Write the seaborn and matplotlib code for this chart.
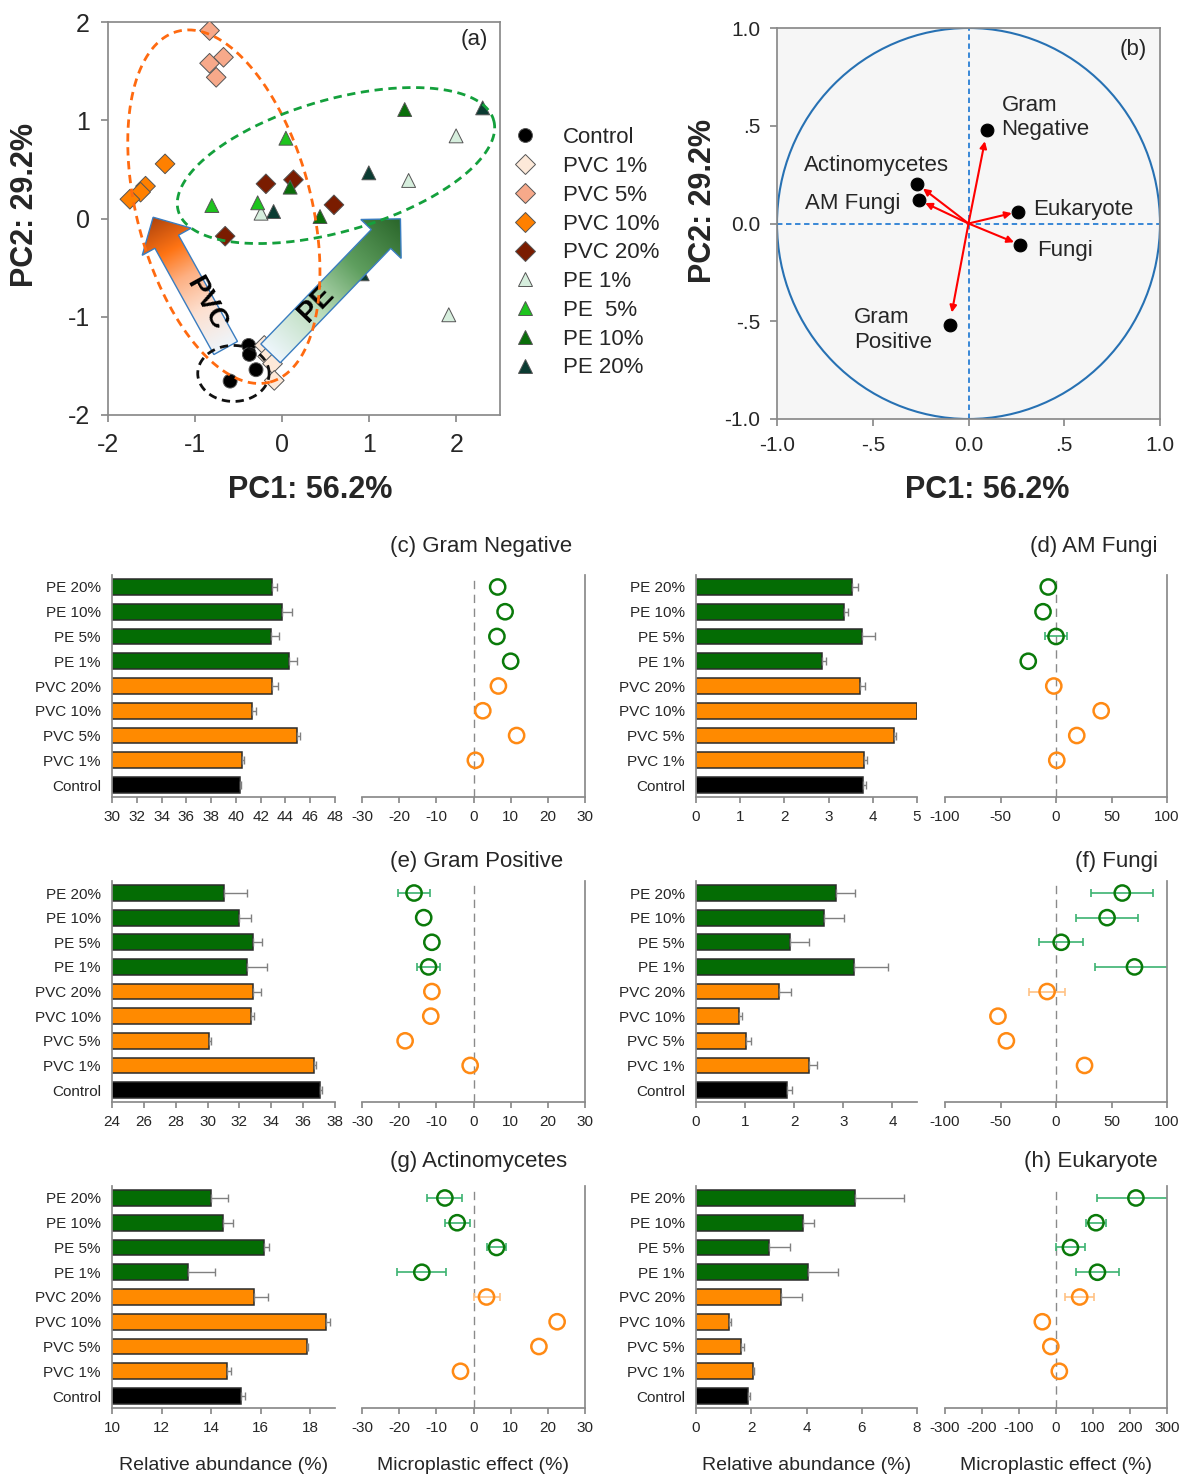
import numpy as np
import pandas as pd
import matplotlib
matplotlib.use("Agg")
import matplotlib.pyplot as plt
import seaborn as sns
from matplotlib.patches import Polygon, Circle
from matplotlib.colors import LinearSegmentedColormap

sns.set_theme(style="white")
plt.rcParams["font.family"] = ["Liberation Sans", "DejaVu Sans"]
plt.rcParams["axes.unicode_minus"] = False

# ---------------- panel (a): PCA scores ----------------
groups = ["Control", "PVC 1%", "PVC 5%", "PVC 10%", "PVC 20%", "PE 1%", "PE  5%", "PE 10%", "PE 20%"]
pc1_control = [-0.385, -0.377, -0.301, -0.598]
pc2_control = [-1.292, -1.383, -1.539, -1.655]
pc1_pvc1 = [-0.206, -0.168, -0.111, -0.091]
pc2_pvc1 = [-1.292, -1.404, -1.478, -1.648]
pc1_pvc5 = [-0.834, -0.834, -0.674, -0.758]
pc2_pvc5 = [1.913, 1.580, 1.641, 1.437]
pc1_pvc10 = [-1.345, -1.569, -1.626, -1.749]
pc2_pvc10 = [0.556, 0.329, 0.268, 0.196]
pc1_pvc20 = [-0.187, 0.129, 0.594, -0.655]
pc2_pvc20 = [0.353, 0.394, 0.139, -0.180]
pc1_pe1 = [1.996, 1.451, -0.243, 1.912]
pc2_pe1 = [0.841, 0.387, 0.054, -0.980]
pc1_pe5 = [0.042, -0.808, -0.282]
pc2_pe5 = [0.817, 0.132, 0.160]
pc1_pe10 = [1.406, 0.434, 0.091]
pc2_pe10 = [1.109, 0.020, 0.319]
pc1_pe20 = [0.994, 2.301, -0.099, 0.918]
pc2_pe20 = [0.465, 1.126, 0.071, -0.563]

# ---------------- panel (b): loadings ----------------
load_names = ["Gram\nNegative", "Actinomycetes", "AM Fungi", "Eukaryote", "Fungi", "Gram\nPositive"]
load_pc1 = [0.097, -0.270, -0.257, 0.257, 0.270, -0.099]
load_pc2 = [0.478, 0.203, 0.119, 0.060, -0.109, -0.517]

# ---------------- panels (c)-(h) ----------------
treatments = ["PE 20%", "PE 10%", "PE 5%", "PE 1%", "PVC 20%", "PVC 10%", "PVC 5%", "PVC 1%", "Control"]

gneg_mean = [42.9, 43.7, 42.8, 44.3, 42.95, 41.3, 44.95, 40.5, 40.35]
gneg_se = [0.44, 0.8, 0.7, 0.6, 0.45, 0.3, 0.2, 0.15, 0.1]
gneg_eff = [6.5, 8.5, 6.3, 10.0, 6.7, 2.5, 11.6, 0.5]
gneg_eff_se = [0, 0, 0, 0, 0, 0, 0, 0]

amf_mean = [3.52, 3.34, 3.76, 2.84, 3.70, 5.0, 4.48, 3.80, 3.78]
amf_se = [0.14, 0.10, 0.28, 0.10, 0.13, 0.0, 0.04, 0.07, 0.06]
amf_eff = [-7, -11.7, 0, -25, -2, 40.7, 18.7, 0.7]
amf_eff_se = [0, 0, 9.5, 0, 0, 0, 0, 0]

gpos_mean = [31.02, 32.0, 32.84, 32.49, 32.84, 32.74, 30.1, 36.67, 37.06]
gpos_se = [1.43, 0.74, 0.57, 1.26, 0.52, 0.16, 0.14, 0.11, 0.14]
gpos_eff = [-16.0, -13.4, -11.2, -12.1, -11.2, -11.5, -18.4, -0.9]
gpos_eff_se = [4.3, 0, 0, 3.2, 0, 0, 0, 0]

fungi_mean = [2.86, 2.61, 1.92, 3.21, 1.68, 0.88, 1.01, 2.31, 1.85]
fungi_se = [0.37, 0.40, 0.38, 0.70, 0.25, 0.06, 0.10, 0.15, 0.11]
fungi_eff = [59.7, 46, 4.7, 70.7, -8, -52.3, -44.7, 25.7]
fungi_eff_se = [28, 28, 20, 36, 16.5, 0, 0, 0]

actino_mean = [14.01, 14.5, 16.13, 13.08, 15.74, 18.62, 17.88, 14.66, 15.2]
actino_se = [0.67, 0.37, 0.2, 1.08, 0.56, 0.19, 0.05, 0.15, 0.17]
actino_eff = [-7.7, -4.4, 6.2, -13.9, 3.5, 22.5, 17.6, -3.5]
actino_eff_se = [4.7, 3.4, 2.5, 6.6, 3.5, 0, 0, 0]

euk_mean = [5.77, 3.87, 2.63, 4.05, 3.08, 1.19, 1.63, 2.06, 1.88]
euk_se = [1.76, 0.4, 0.76, 1.1, 0.77, 0.07, 0.11, 0.05, 0.06]
euk_eff = [216, 108, 39, 112, 64, -37, -14, 9]
euk_eff_se = [105, 27, 40, 58, 40, 0, 0, 0]

GREEN = "#046c04"
ORANGE = "#ff8a00"
bar_palette = {t: (GREEN if t.startswith("PE") else ORANGE if t.startswith("PVC") else "black") for t in treatments}

W, H = 1181, 1476
fig = plt.figure(figsize=(W / 100, H / 100), dpi=100)


def fbox(left, top, right, bottom):
    return [left / W, 1 - bottom / H, (right - left) / W, (bottom - top) / H]


GREY = "#8a8a8a"

# ================= panel (a) =================
axA = fig.add_axes(fbox(108, 22, 500, 415))
rows = []
for g, xs, ys in zip(groups,
                     [pc1_control, pc1_pvc1, pc1_pvc5, pc1_pvc10, pc1_pvc20, pc1_pe1, pc1_pe5, pc1_pe10, pc1_pe20],
                     [pc2_control, pc2_pvc1, pc2_pvc5, pc2_pvc10, pc2_pvc20, pc2_pe1, pc2_pe5, pc2_pe10, pc2_pe20]):
    for x, y in zip(xs, ys):
        rows.append((g, x, y))
df_a = pd.DataFrame(rows, columns=["group", "pc1", "pc2"])
pca_palette = {"Control": "black", "PVC 1%": "#fde9d9", "PVC 5%": "#f7a98a", "PVC 10%": "#ff8000",
               "PVC 20%": "#7a1c00", "PE 1%": "#d6eedd", "PE  5%": "#1ec41e", "PE 10%": "#0a6e0a",
               "PE 20%": "#0b3b32"}
pca_markers = {g: ("o" if g == "Control" else "D" if g.startswith("PVC") else "^") for g in groups}
sns.scatterplot(data=df_a, x="pc1", y="pc2", hue="group", style="group", hue_order=groups,
                style_order=groups, palette=pca_palette, markers=pca_markers, s=100,
                edgecolor="#555555", linewidth=0.7, ax=axA, zorder=3)

SX, SY = 392 / 4.5, 393 / 4.0  # px per data unit


def arrow_poly(base, tip, shaft_w, head_w, head_l):
    b = np.array([base[0] * SX, base[1] * SY])
    t = np.array([tip[0] * SX, tip[1] * SY])
    d = t - b
    L = np.hypot(*d)
    u = d / L
    n = np.array([-u[1], u[0]])
    hb = t - u * head_l
    pts = [b + n * shaft_w / 2, hb + n * shaft_w / 2, hb + n * head_w / 2, t,
           hb - n * head_w / 2, hb - n * shaft_w / 2, b - n * shaft_w / 2]
    pts = np.array(pts) / [SX, SY]
    return pts, b, u, L


def gradient_arrow(ax, base, tip, colors):
    pts, b, u, L = arrow_poly(base, tip, 27, 56, 28)
    poly = Polygon(pts, closed=True, fc="none", ec="#3a7dc0", lw=1.0, zorder=5)
    ax.add_patch(poly)
    x0, y0 = pts.min(axis=0)
    x1, y1 = pts.max(axis=0)
    X, Y = np.meshgrid(np.linspace(x0, x1, 300), np.linspace(y0, y1, 300))
    T = ((X * SX - b[0]) * u[0] + (Y * SY - b[1]) * u[1]) / L
    cmap = LinearSegmentedColormap.from_list("g", colors)
    im = ax.imshow(T, extent=[x0, x1, y0, y1], origin="lower", cmap=cmap, vmin=0, vmax=1,
                   aspect="auto", zorder=4, interpolation="bilinear")
    im.set_clip_path(poly)


gradient_arrow(axA, (-0.649, -1.318), (-1.482, 0.013),
               [(0, "#eef6fc"), (0.3, "#fde0d0"), (0.55, "#fdb083"), (0.75, "#ff7414"), (1, "#b0440c")])
gradient_arrow(axA, (-0.134, -1.373), (1.357, -0.003),
               [(0, "#eef6fc"), (0.35, "#b9dcb9"), (0.65, "#5f9f5f"), (1, "#2a662a")])
axA.text(-0.87, -0.87, "PVC", rotation=-61, rotation_mode="anchor", ha="center", va="center",
         fontsize=20, fontweight="bold", color="black", zorder=6)
axA.text(0.385, -0.868, "PE", rotation=46, rotation_mode="anchor", ha="center", va="center",
         fontsize=21, fontweight="bold", color="black", zorder=6)

tt = np.linspace(0, 2 * np.pi, 300)
for c, a, bb, col in [((-0.67, 0.12), (0.531, -1.785), (0.967, 0.228), "#ff6a10"),
                      ((0.617, 0.539), (1.810, 0.463), (0.208, -0.645), "#14a03c"),
                      ((-0.56, -1.577), (0.41, 0.0), (0.0, 0.285), "#111111")]:
    ex = c[0] + a[0] * np.cos(tt) + bb[0] * np.sin(tt)
    ey = c[1] + a[1] * np.cos(tt) + bb[1] * np.sin(tt)
    axA.plot(ex, ey, ls=(0, (3, 2)), color=col, lw=2, zorder=7)

axA.set_xlim(-2, 2.5)
axA.set_ylim(-2, 2)
axA.set_xticks([-2, -1, 0, 1, 2])
axA.set_yticks([-2, -1, 0, 1, 2])
axA.set_xlabel("")
axA.set_ylabel("")
axA.tick_params(labelsize=18, length=5, color=GREY, direction="out", bottom=True, left=True, pad=8)
for s in axA.spines.values():
    s.set_color(GREY)
axA.text(0.935, 0.955, "(a)", transform=axA.transAxes, ha="center", va="center", fontsize=16)
sns.move_legend(axA, "upper left", bbox_to_anchor=(0.985, 0.755), frameon=False, title=None,
                fontsize=16, labelspacing=0.35, handletextpad=0.7, borderaxespad=0)

# ================= panel (b) =================
axB = fig.add_axes(fbox(777, 28, 1160, 419))
axB.set_facecolor("#f6f6f6")
axB.add_patch(Circle((0, 0), 1, fill=False, ec="#2771b3", lw=1.5, zorder=2))
axB.axvline(0, ls=(0, (3, 2)), color="#2a7fd4", lw=1.3, zorder=1)
axB.axhline(0, ls=(0, (3, 2)), color="#2a7fd4", lw=1.3, zorder=1)
for x, y in zip(load_pc1, load_pc2):
    axB.annotate("", xy=(0.88 * x, 0.88 * y), xytext=(0, 0),
                 arrowprops=dict(arrowstyle="-|>", color="red", lw=1.5, mutation_scale=10,
                                 shrinkA=0, shrinkB=0), zorder=3)
sns.scatterplot(x=load_pc1, y=load_pc2, color="black", s=85, ax=axB, zorder=4, edgecolor="black")
label_xy = [(0.172, 0.541), (-0.861, 0.298), (-0.855, 0.10), (0.339, 0.0715), (0.356, -0.136), (-0.596, -0.545)]
for name, (lx, ly) in zip(load_names, label_xy):
    axB.text(lx, ly, name, ha="left", va="center", fontsize=16, linespacing=1.2)
axB.set_xlim(-1, 1)
axB.set_ylim(-1, 1)
ticks = [-1, -0.5, 0, 0.5, 1]
tlab = ["-1.0", "-.5", "0.0", ".5", "1.0"]
axB.set_xticks(ticks, tlab)
axB.set_yticks(ticks, tlab)
axB.tick_params(labelsize=15, length=5, color=GREY, direction="out", bottom=True, left=True, pad=7)
for s in axB.spines.values():
    s.set_color(GREY)
axB.text(0.93, 0.944, "(b)", transform=axB.transAxes, ha="center", va="center", fontsize=16)

fig.text(25 / W, 1 - 205 / H, "PC2: 29.2%", rotation=90, ha="center", va="center", fontsize=22, fontweight="bold")
fig.text(310 / W, 1 - 490 / H, "PC1: 56.2%", ha="center", va="center", fontsize=22, fontweight="bold")
fig.text(703 / W, 1 - 201 / H, "PC2: 29.2%", rotation=90, ha="center", va="center", fontsize=22, fontweight="bold")
fig.text(987 / W, 1 - 490 / H, "PC1: 56.2%", ha="center", va="center", fontsize=22, fontweight="bold")


# ================= bar + effect panels =================
def bar_panel(ax, means, ses, xlim, xticks):
    df = pd.DataFrame({"treatment": treatments, "value": means})
    sns.barplot(data=df, x="value", y="treatment", hue="treatment", order=treatments,
                hue_order=treatments, palette=bar_palette, width=0.64, saturation=1,
                edgecolor="#2b2b2b", linewidth=1.1, legend=False, ax=ax)
    ses = np.asarray(ses)
    m = ses > 0
    pos = np.arange(len(treatments))
    ax.errorbar(np.asarray(means)[m], pos[m], xerr=[np.zeros(m.sum()), ses[m]], fmt="none",
                ecolor="#808080", elinewidth=1, capsize=3, capthick=1)
    ax.set_xlim(*xlim)
    ax.set_ylim(8.5, -0.5)
    ax.set_xticks(xticks)
    ax.set_xlabel("")
    ax.set_ylabel("")
    sns.despine(ax=ax)
    for s in ["left", "bottom"]:
        ax.spines[s].set_color(GREY)
    ax.tick_params(axis="x", labelsize=11, length=4, color=GREY, direction="out", bottom=True, pad=5)
    ax.tick_params(axis="y", labelsize=11, length=0, pad=8)


def effect_panel(ax, eff, se, xlim, xticks):
    eff = np.asarray(eff, dtype=float)
    se = np.asarray(se, dtype=float)
    pos = np.arange(len(eff))
    kind = ["PE" if t.startswith("PE") else "PVC" for t in treatments[:len(eff)]]
    for k, ec in [("PE", "#3cb371"), ("PVC", "#ffc285")]:
        m = (se > 0) & (np.array(kind) == k)
        if m.any():
            ax.errorbar(eff[m], pos[m], xerr=se[m], fmt="none", ecolor=ec, elinewidth=1.2,
                        capsize=3, capthick=1.2, zorder=2)
    sns.scatterplot(x=eff, y=pos, hue=kind, palette={"PE": "#0a7a0a", "PVC": "#ff8a14"},
                    s=120, legend=False, ax=ax, zorder=3)
    coll = ax.collections[-1]
    fc = coll.get_facecolors()
    coll.set_edgecolors(fc)
    coll.set_facecolors("none")
    coll.set_linewidths(1.8)
    ax.axvline(0, ls=(0, (6, 4)), color="#8a8a8a", lw=1, zorder=1)
    ax.set_xlim(*xlim)
    ax.set_ylim(8.5, -0.5)
    ax.set_xticks(xticks)
    ax.set_yticks([])
    ax.set_xlabel("")
    ax.set_ylabel("")
    ax.spines["top"].set_visible(False)
    ax.spines["left"].set_visible(False)
    for s in ["right", "bottom"]:
        ax.spines[s].set_color(GREY)
    ax.tick_params(axis="x", labelsize=11, length=4, color=GREY, direction="out", bottom=True, pad=5)


rows_px = [(574.6, 797.4), (880.7, 1102.4), (1185.6, 1408.4)]
cols_px = [(112, 335), (362, 585), (696, 917), (945, 1167)]

panels = [
    (gneg_mean, gneg_se, (30, 48), range(30, 49, 2), gneg_eff, gneg_eff_se, (-30, 30), range(-30, 31, 10),
     amf_mean, amf_se, (0, 5), range(0, 6), amf_eff, amf_eff_se, (-100, 100), range(-100, 101, 50)),
    (gpos_mean, gpos_se, (24, 38), range(24, 39, 2), gpos_eff, gpos_eff_se, (-30, 30), range(-30, 31, 10),
     fungi_mean, fungi_se, (0, 4.5), range(0, 5), fungi_eff, fungi_eff_se, (-100, 100), range(-100, 101, 50)),
    (actino_mean, actino_se, (10, 19), range(10, 19, 2), actino_eff, actino_eff_se, (-30, 30), range(-30, 31, 10),
     euk_mean, euk_se, (0, 8), range(0, 9, 2), euk_eff, euk_eff_se, (-300, 300), range(-300, 301, 100)),
]
for (top, bot), p in zip(rows_px, panels):
    a1 = fig.add_axes(fbox(cols_px[0][0], top, cols_px[0][1], bot))
    bar_panel(a1, p[0], p[1], p[2], p[3])
    a2 = fig.add_axes(fbox(cols_px[1][0], top, cols_px[1][1], bot))
    effect_panel(a2, p[4], p[5], p[6], p[7])
    a3 = fig.add_axes(fbox(cols_px[2][0], top, cols_px[2][1], bot))
    bar_panel(a3, p[8], p[9], p[10], p[11])
    a4 = fig.add_axes(fbox(cols_px[3][0], top, cols_px[3][1], bot))
    effect_panel(a4, p[12], p[13], p[14], p[15])

for txt, x, y, ha in [("(c) Gram Negative", 390, 547, "left"), ("(d) AM Fungi", 1158, 547, "right"),
                      ("(e) Gram Positive", 390, 862, "left"), ("(f) Fungi", 1158, 862, "right"),
                      ("(g) Actinomycetes", 390, 1162, "left"), ("(h) Eukaryote", 1158, 1162, "right")]:
    fig.text(x / W, 1 - y / H, txt, ha=ha, va="center", fontsize=16)
for txt, x in [("Relative abundance (%)", 224), ("Microplastic effect (%)", 473),
               ("Relative abundance (%)", 807), ("Microplastic effect (%)", 1056)]:
    fig.text(x / W, 1 - 1466 / H, txt, ha="center", va="center", fontsize=14)

fig.savefig("out.png", dpi=100)
